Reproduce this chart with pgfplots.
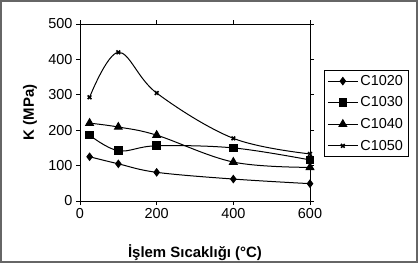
\documentclass[border=0pt]{standalone}
\usepackage{fontspec}
\setmainfont{Liberation Sans}
\usepackage{pgfplots}
\pgfplotsset{compat=1.18}
\begin{document}
\begin{tikzpicture}
\useasboundingbox (0bp,0bp) rectangle (418bp,263bp);
% chart area frame
\draw[gray!80!black, line width=1.6bp] (0.8bp,0.8bp) rectangle (417.2bp,262.2bp);
\begin{axis}[
  at={(80bp,62bp)}, anchor=south west,
  scale only axis, width=230bp, height=177bp,
  xmin=0, xmax=600, ymin=0, ymax=500,
  xtick={0,200,400,600}, ytick={0,100,...,500},
  tick align=outside, major tick length=4bp,
  tick style={black, line width=0.8bp},
  axis line style={black, line width=0.8bp},
  tick label style={font=\fontsize{14.5}{17}\selectfont},
  /pgf/number format/assume math mode=true,
  xlabel={\bfseries İşlem Sıcaklığı (°C)},
  ylabel={\bfseries K (MPa)},
  label style={font=\fontsize{15}{17}\selectfont},
  xlabel style={at={(axis description cs:0.5,-0.29)}, anchor=center},
  ylabel style={at={(axis description cs:-0.217,0.5)}, anchor=center},
  every axis plot/.append style={black, line width=1bp, smooth, tension=0.6},
  legend style={at={(axis description cs:1.061,0.74)}, anchor=north west,
    draw=black, line width=0.6bp, font=\fontsize{14.5}{17}\selectfont,
    inner xsep=3bp, inner ysep=3bp, row sep=6bp, cells={anchor=west}},
  legend image code/.code={%
    \draw[mark repeat=2, mark phase=2, sharp plot]
      plot coordinates {(0bp,0bp) (15bp,0bp) (30bp,0bp)};},
]
\addplot[mark=diamond*, mark size=3.6bp, mark options={solid, fill=black}]
  coordinates {(25,125) (100,105) (200,81) (400,62) (600,49)};
\addlegendentry{C1020}
\addplot[mark=square*, mark size=3.8bp, mark options={solid, fill=black}]
  coordinates {(25,186) (100,142) (200,156) (400,150) (600,116)};
\addlegendentry{C1030}
\addplot[mark=triangle*, mark size=4.4bp, mark options={solid, fill=black}]
  coordinates {(25,220) (100,209) (200,186) (400,110) (600,95)};
\addlegendentry{C1040}
\addplot[mark=x, mark size=2.6bp, mark options={solid, line width=1.6bp}]
  coordinates {(25,293) (100,420) (200,305) (400,177) (600,133)};
\addlegendentry{C1050}
\end{axis}
\end{tikzpicture}
\end{document}
